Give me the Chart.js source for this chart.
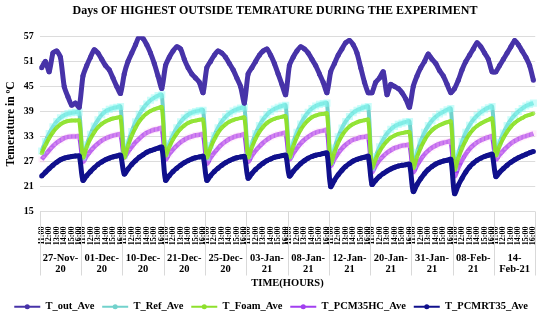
<!DOCTYPE html>
<html>
<head>
<meta charset="utf-8">
<script src="https://cdn.jsdelivr.net/npm/chart.js@4/dist/chart.umd.min.js"></script>
<style>
  html, body { margin: 0; padding: 0; background: #fff; }
  #wrap { width: 550px; height: 322px; }
</style>
</head>
<body>
<div id="wrap"><canvas id="tempChart" width="550" height="322"></canvas></div>
<script>
// days of the experiment (x axis groups)
const dates = [
  ['27-Nov-', '20'], ['01-Dec-', '20'], ['10-Dec-', '20'], ['21-Dec-', '20'],
  ['25-Dec-', '20'], ['03-Jan-', '21'], ['08-Jan-', '21'], ['12-Jan-', '21'],
  ['20-Jan-', '21'], ['31-Jan-', '21'], ['08-Feb-', '21'], ['14-', 'Feb-21']
];
// readings within each day
const times = ['11:00', '11:30', '12:00', '12:30', '13:00', '13:30', '14:00', '14:30', '15:00', '15:30', '16:00'];

// one row per day, same order as dates
const tOut = [
  [49.5, 51, 48.5, 53, 53.5, 52, 45, 42.5, 40.5, 41, 40],
  [47.5, 50, 52, 53.8, 53, 51.5, 50, 49, 47, 45, 43.3],
  [48, 51, 53, 55, 57, 56.5, 55, 53, 50.5, 47.5, 44.5],
  [50, 52, 53.5, 54.5, 54, 51.5, 49.5, 48, 47, 46, 43.5],
  [49.5, 51, 52.5, 53.5, 53, 52, 50.5, 49, 47, 45, 41],
  [48, 49.5, 51, 52.5, 53.5, 54, 52.5, 50.5, 48, 45.5, 43],
  [50, 52, 53.5, 54.5, 54, 53, 51.5, 50, 48, 46, 43.5],
  [48.5, 50.5, 52.5, 54, 55.5, 56, 55, 53, 49.5, 46, 43.5],
  [43.5, 46, 47, 48.5, 43, 45.5, 45, 44.5, 43.5, 42, 40],
  [45, 47.5, 49.5, 51, 52.8, 51.5, 50.5, 48.8, 47.5, 45.5, 43.5],
  [44.5, 46.5, 49, 51, 52.5, 54, 55.5, 54.5, 53, 51.5, 48.5],
  [48.5, 50, 51.5, 53, 54.5, 56, 55, 53.5, 52, 50, 46.5]
];
const tRef = [
  [29.5, 31.8, 33.7, 35.3, 36.6, 37.5, 38.1, 38.5, 38.7, 38.8, 38.8],
  [28, 31, 33.5, 35.5, 37, 38.2, 39, 39.5, 39.8, 40, 40.2],
  [28.5, 31.5, 34.2, 36.5, 38.3, 39.7, 40.8, 41.7, 42.3, 42.8, 43],
  [29, 31.3, 33.4, 35.1, 36.5, 37.5, 38.2, 38.7, 39, 39.2, 39.3],
  [28, 30.8, 33.2, 35.1, 36.6, 37.7, 38.5, 39.1, 39.5, 39.8, 40],
  [28.5, 31.3, 33.7, 35.6, 37.1, 38.2, 39, 39.6, 40, 40.3, 40.5],
  [28.5, 31.5, 34, 36, 37.6, 38.8, 39.7, 40.3, 40.7, 40.9, 41],
  [27, 30.2, 32.9, 35, 36.6, 37.8, 38.7, 39.3, 39.7, 40, 40.2],
  [25.5, 28.2, 30.5, 32.3, 33.7, 34.7, 35.4, 35.9, 36.2, 36.5, 36.6],
  [26, 29.2, 31.9, 34, 35.6, 36.8, 37.7, 38.4, 38.9, 39.4, 39.7],
  [25.5, 28.9, 31.8, 34, 35.7, 37, 38, 38.8, 39.4, 39.9, 40.2],
  [29, 31.6, 33.8, 35.6, 37, 38.1, 39, 39.7, 40.3, 40.7, 41]
];
const tFoam = [
  [29, 30.9, 32.6, 34, 35.1, 35.9, 36.4, 36.7, 36.8, 36.8, 36.8],
  [28, 30.5, 32.5, 34, 35.2, 36, 36.6, 37, 37.3, 37.5, 37.6],
  [28, 30.8, 33.2, 35.1, 36.6, 37.7, 38.5, 39.1, 39.5, 39.8, 40],
  [28.5, 30.5, 32.3, 33.7, 34.8, 35.6, 36.2, 36.6, 36.8, 37, 37],
  [28, 30.3, 32.3, 33.9, 35.1, 35.9, 36.5, 36.9, 37.2, 37.4, 37.5],
  [28, 30.4, 32.5, 34.1, 35.3, 36.2, 36.8, 37.2, 37.5, 37.7, 37.8],
  [28, 30.6, 32.8, 34.6, 35.9, 36.9, 37.6, 38, 38.3, 38.4, 38.5],
  [26.5, 29.2, 31.5, 33.2, 34.5, 35.4, 36, 36.4, 36.7, 36.9, 37],
  [25.5, 27.6, 29.4, 30.8, 31.9, 32.7, 33.2, 33.6, 33.8, 34, 34],
  [25.5, 28.1, 30.3, 32.1, 33.5, 34.5, 35.2, 35.7, 36.1, 36.4, 36.6],
  [25, 27.8, 30.2, 32.1, 33.6, 34.7, 35.5, 36.1, 36.6, 37, 37.3],
  [28.5, 30.7, 32.6, 34.1, 35.3, 36.2, 36.9, 37.4, 37.9, 38.2, 38.5]
];
const tPcmHc = [
  [27.5, 28.6, 29.7, 30.7, 31.5, 32.1, 32.6, 32.9, 33, 33, 33],
  [27, 28.3, 29.5, 30.5, 31.3, 32, 32.5, 32.9, 33.2, 33.4, 33.5],
  [28, 29.3, 30.5, 31.6, 32.5, 33.3, 33.9, 34.3, 34.6, 34.8, 35],
  [27.5, 28.8, 29.9, 30.8, 31.6, 32.2, 32.7, 33, 33.3, 33.4, 33.5],
  [26.5, 27.9, 29.1, 30.2, 31.1, 31.8, 32.4, 32.8, 33.1, 33.3, 33.5],
  [27, 28.4, 29.6, 30.6, 31.5, 32.2, 32.8, 33.2, 33.5, 33.7, 33.8],
  [27.5, 28.9, 30.2, 31.3, 32.2, 32.9, 33.5, 33.9, 34.2, 34.4, 34.5],
  [26, 27.6, 29, 30.1, 31, 31.7, 32.2, 32.5, 32.8, 32.9, 33],
  [24.5, 26, 27.3, 28.3, 29.1, 29.7, 30.2, 30.5, 30.8, 30.9, 31],
  [24.5, 26.1, 27.5, 28.7, 29.6, 30.3, 30.8, 31.2, 31.5, 31.7, 31.8],
  [23.5, 25.5, 27.3, 28.8, 30, 30.9, 31.6, 32.1, 32.5, 32.8, 33],
  [27.5, 28.6, 29.6, 30.5, 31.3, 31.9, 32.4, 32.8, 33.1, 33.4, 33.7]
];
const tPcmRt = [
  [23.5, 24.4, 25.3, 26.1, 26.8, 27.4, 27.8, 28, 28.2, 28.3, 28.3],
  [22.5, 23.6, 24.6, 25.5, 26.3, 26.9, 27.4, 27.8, 28.1, 28.3, 28.5],
  [24, 25.2, 26.3, 27.2, 28, 28.6, 29.2, 29.6, 29.9, 30.2, 30.4],
  [22.5, 23.6, 24.6, 25.4, 26.1, 26.7, 27.2, 27.6, 27.9, 28.1, 28.2],
  [22.5, 23.6, 24.6, 25.4, 26.1, 26.7, 27.2, 27.6, 27.9, 28.1, 28.2],
  [23, 24.1, 25.1, 25.9, 26.6, 27.2, 27.6, 28, 28.2, 28.4, 28.5],
  [23.5, 24.6, 25.6, 26.5, 27.2, 27.8, 28.2, 28.5, 28.7, 28.9, 29],
  [21, 22.5, 23.8, 24.9, 25.8, 26.5, 27.1, 27.5, 27.8, 28, 28.2],
  [21.5, 22.5, 23.4, 24.1, 24.7, 25.2, 25.6, 25.9, 26.1, 26.2, 26.3],
  [19.8, 21.5, 22.9, 24.1, 25.1, 25.8, 26.4, 26.8, 27.1, 27.3, 27.5],
  [19.3, 21.3, 23, 24.5, 25.7, 26.6, 27.3, 27.8, 28.2, 28.5, 28.7],
  [23.4, 24.4, 25.3, 26.1, 26.8, 27.4, 27.9, 28.3, 28.7, 29.1, 29.4]
];

const hourLabels = dates.flatMap(() => times);
const serif = 'Liberation Serif';

// vertical separators between the day groups under the plot
const daySeparators = {
  id: 'daySeparators',
  afterDraw(chart) {
    const ctx = chart.ctx;
    const area = chart.chartArea;
    const sDate = chart.scales.xDate;
    const step = area.width / dates.length;
    ctx.save();
    ctx.strokeStyle = '#d9d9d9';
    ctx.lineWidth = 1;
    for (let k = 0; k <= dates.length; k++) {
      const x = Math.round(area.left + k * step) + 0.5;
      ctx.beginPath();
      ctx.moveTo(x, area.bottom);
      ctx.lineTo(x, sDate.top + 29);
      ctx.stroke();
    }
    ctx.restore();
  }
};

// dot in the middle of each legend line
const legendDots = {
  id: 'legendDots',
  afterDraw(chart) {
    const lg = chart.legend;
    if (!lg || !lg.legendHitBoxes) return;
    const ctx = chart.ctx;
    lg.legendHitBoxes.forEach((box, i) => {
      const ds = chart.data.datasets[i];
      ctx.save();
      ctx.fillStyle = ds.borderColor;
      ctx.beginPath();
      ctx.arc(box.left + 13, box.top + box.height / 2, 2.5, 0, Math.PI * 2);
      ctx.fill();
      ctx.restore();
    });
  }
};

new Chart(document.getElementById('tempChart').getContext('2d'), {
  type: 'line',
  data: {
    labels: hourLabels,
    datasets: [
      {
        label: 'T_out_Ave',
        data: tOut.flat(),
        borderColor: '#4733a8',
        backgroundColor: '#4733a8',
        pointBackgroundColor: '#4733a8',
        borderWidth: 5,
        pointRadius: 2.5,
        pointBorderWidth: 0,
        tension: 0.2,
        order: 1
      },
      {
        label: 'T_Ref_Ave',
        data: tRef.flat(),
        borderColor: '#72d2cc',
        backgroundColor: '#72d2cc',
        pointBackgroundColor: 'rgba(140, 250, 245, 0.45)',
        pointStyle: 'rect',
        borderWidth: 4,
        pointRadius: 5,
        pointBorderWidth: 0,
        tension: 0.3,
        order: 4
      },
      {
        label: 'T_Foam_Ave',
        data: tFoam.flat(),
        borderColor: '#8ee02c',
        backgroundColor: '#8ee02c',
        pointBackgroundColor: 'rgba(150, 230, 60, 0.8)',
        borderWidth: 4,
        pointRadius: 2,
        pointBorderWidth: 0,
        tension: 0.3,
        order: 3
      },
      {
        label: 'T_PCM35HC_Ave',
        data: tPcmHc.flat(),
        borderColor: '#a23ff0',
        backgroundColor: '#a23ff0',
        pointBackgroundColor: 'rgba(255, 195, 240, 0.3)',
        pointStyle: 'rect',
        borderWidth: 4.5,
        pointRadius: 4.5,
        pointBorderWidth: 0,
        tension: 0.3,
        order: 5
      },
      {
        label: 'T_PCMRT35_Ave',
        data: tPcmRt.flat(),
        borderColor: '#10108c',
        backgroundColor: '#10108c',
        pointBackgroundColor: '#10108c',
        borderWidth: 5,
        pointRadius: 2.5,
        pointBorderWidth: 0,
        tension: 0.3,
        order: 2
      }
    ]
  },
  options: {
    responsive: false,
    animation: false,
    layout: { padding: { left: 4, right: 4, top: 2, bottom: 0 } },
    plugins: {
      title: {
        display: true,
        text: 'Days OF HIGHEST OUTSIDE TEMRATURE DURING THE EXPERIMENT',
        color: '#000',
        font: { family: serif, size: 12, weight: 'bold' },
        padding: { top: 2, bottom: 18 }
      },
      legend: {
        position: 'bottom',
        labels: {
          color: '#000',
          font: { family: serif, size: 10.5, weight: 'bold' },
          usePointStyle: true,
          pointStyle: 'line',
          pointStyleWidth: 26,
          padding: 0,
          generateLabels(chart) {
            return chart.data.datasets.map((ds, i) => ({
              text: ds.label + '   ',
              strokeStyle: ds.borderColor,
              fillStyle: ds.borderColor,
              lineWidth: 2,
              pointStyle: 'line',
              datasetIndex: i,
              fontColor: '#000'
            }));
          }
        }
      },
      tooltip: { enabled: false }
    },
    scales: {
      y: {
        min: 15,
        max: 57,
        ticks: {
          stepSize: 3,
          color: '#000',
          font: { family: serif, size: 10, weight: 'bold' },
          padding: 6
        },
        grid: { color: '#dcdcdc', drawTicks: false },
        border: { display: false },
        title: {
          display: true,
          text: 'Temerature in ºC',
          color: '#000',
          font: { family: serif, size: 11.5, weight: 'bold' },
          padding: 0
        }
      },
      x: {
        offset: true,
        grid: { display: false },
        border: { display: false },
        afterFit(scale) { scale.height = 35; },
        ticks: {
          autoSkip: false,
          maxRotation: 90,
          minRotation: 90,
          color: '#000',
          font: { family: serif, size: 8, weight: 'bold' },
          padding: 7,
          callback(value) {
            const lab = this.getLabelForValue(value);
            return lab.endsWith(':00') ? lab : '';
          }
        }
      },
      xDate: {
        type: 'category',
        labels: dates,
        position: 'bottom',
        offset: true,
        grid: { display: false },
        border: { display: false },
        afterFit(scale) { scale.height = 55; },
        ticks: {
          autoSkip: false,
          maxRotation: 0,
          minRotation: 0,
          color: '#000',
          font: { family: serif, size: 10.5, weight: 'bold', lineHeight: 1.05 },
          padding: -2
        },
        title: {
          display: true,
          text: 'TIME(HOURS)',
          color: '#000',
          font: { family: serif, size: 10.5, weight: 'bold' },
          padding: { top: 0, bottom: 12 }
        }
      }
    }
  },
  plugins: [daySeparators, legendDots]
});
</script>
</body>
</html>
